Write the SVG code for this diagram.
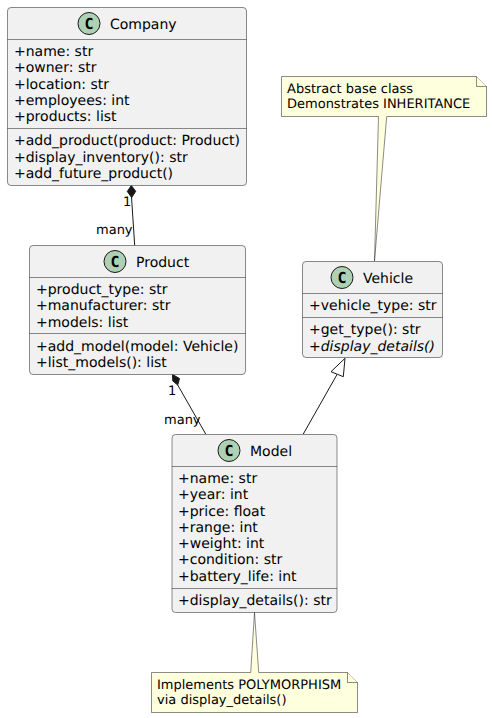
<svg xmlns="http://www.w3.org/2000/svg" width="492" height="718" viewBox="0 0 492 718">
<style>
text{font-family:"DejaVu Sans",sans-serif;fill:#000;text-rendering:geometricPrecision}
.box{fill:#F1F1F1;stroke:#181818;stroke-width:.5}
.sep{stroke:#181818;stroke-width:.5}
.spot{fill:#ADD1B2;stroke:#181818;stroke-width:1}
.m{font-size:14px}
.t{font-size:14px}
.c{font-family:"DejaVu Sans Mono",monospace;font-size:15px;font-weight:bold;text-anchor:middle}
.n{font-size:13px}
.l{font-size:13px}
.note{fill:#FEFFDD;stroke:#181818;stroke-width:.5}
.edge{stroke:#181818;stroke-width:1;fill:none}
</style>
<g id="connectors">
<path class="edge" d="M131.500 197 L134.700 245.500"/>
<path d="M131.300 185.500 L127.300 191.500 L131.700 197.500 L135.700 191.300Z" fill="#181818" stroke="#181818"/>
<path class="edge" d="M177.700 385 L205.700 434"/>
<path d="M172.500 374.500 L172.800 381 L177.700 385 L179.500 378.500Z" fill="#181818" stroke="#181818"/>
<path class="edge" d="M337.200 374.200 L303.300 434"/>
<path d="M345 358.300 L331 371.700 L343.300 376.700Z" fill="#fff" stroke="#181818"/>
<text class="l" x="123" y="206">1</text>
<text class="l" x="96" y="234">many</text>
<text class="l" x="168" y="395">1</text>
<text class="l" x="164" y="423.500">many</text>
</g>
<g id="Company">
<rect class="box" x="7.500" y="7.500" width="239" height="178" rx="3.500"/>
<circle class="spot" cx="89" cy="23.500" r="11"/>
<text class="c" x="89" y="29">C</text>
<text class="t" x="110" y="28.500">Company</text>
<path class="sep" d="M7.500 39.500H246.500M7.500 128.500H246.500"/>
<text class="m" x="14" y="56">+name: str</text>
<text class="m" x="14" y="72">+owner: str</text>
<text class="m" x="14" y="89">+location: str</text>
<text class="m" x="14" y="105">+employees: int</text>
<text class="m" x="14" y="121">+products: list</text>
<text class="m" x="14" y="145">+add_product(product: Product)</text>
<text class="m" x="14" y="162">+display_inventory(): str</text>
<text class="m" x="14" y="178">+add_future_product()</text>
</g>
<g id="Product">
<rect class="box" x="29.500" y="245.500" width="216" height="129" rx="3.500"/>
<circle class="spot" cx="115" cy="261.500" r="11"/>
<text class="c" x="115" y="267">C</text>
<text class="t" x="136" y="266.500">Product</text>
<path class="sep" d="M29.500 277.500H245.500M29.500 333.500H245.500"/>
<text class="m" x="36" y="294">+product_type: str</text>
<text class="m" x="36" y="310">+manufacturer: str</text>
<text class="m" x="36" y="327">+models: list</text>
<text class="m" x="36" y="351">+add_model(model: Vehicle)</text>
<text class="m" x="36" y="367">+list_models(): list</text>
</g>
<g id="Vehicle">
<rect class="box" x="302.500" y="261.500" width="140" height="96" rx="3.500"/>
<circle class="spot" cx="342" cy="277.500" r="11"/>
<text class="c" x="342" y="283">C</text>
<text class="t" x="363" y="282.500">Vehicle</text>
<path class="sep" d="M302.500 293.500H442.500M302.500 317.500H442.500"/>
<text class="m" x="309" y="310">+vehicle_type: str</text>
<text class="m" x="309" y="334">+get_type(): str</text>
<text class="m" x="309" y="351" font-style="italic">+display_details()</text>
</g>
<g id="Model">
<rect class="box" x="172" y="434.500" width="165" height="178" rx="3.500"/>
<circle class="spot" cx="229" cy="450.500" r="11"/>
<text class="c" x="229" y="456">C</text>
<text class="t" x="250" y="455.500">Model</text>
<path class="sep" d="M172 466.500H337M172 588.500H337"/>
<text class="m" x="178" y="483">+name: str</text>
<text class="m" x="178" y="499">+year: int</text>
<text class="m" x="178" y="516">+price: float</text>
<text class="m" x="178" y="532">+range: int</text>
<text class="m" x="178" y="548">+weight: int</text>
<text class="m" x="178" y="564">+condition: str</text>
<text class="m" x="178" y="581">+battery_life: int</text>
<text class="m" x="178" y="605">+display_details(): str</text>
</g>
<g id="note-vehicle">
<path class="note" d="M281.500 76.500 H476.500 L486.500 86.500 V116.500 H386.700 L374.500 261 L378.500 116.500 H281.500Z"/>
<path class="note" d="M476.500 76.500 V86.500 H486.500"/>
<text class="n" x="287" y="93">Abstract base class</text>
<text class="n" x="287" y="108">Demonstrates INHERITANCE</text>
</g>
<g id="note-model">
<path class="note" d="M151.500 672.500 H250.700 L254.500 612.500 L258.700 672.500 H347.500 L357.500 682.500 V712.500 H151.500Z"/>
<path class="note" d="M347.500 672.500 V682.500 H357.500"/>
<text class="n" x="157" y="689">Implements POLYMORPHISM</text>
<text class="n" x="157" y="704">via display_details()</text>
</g>
</svg>
